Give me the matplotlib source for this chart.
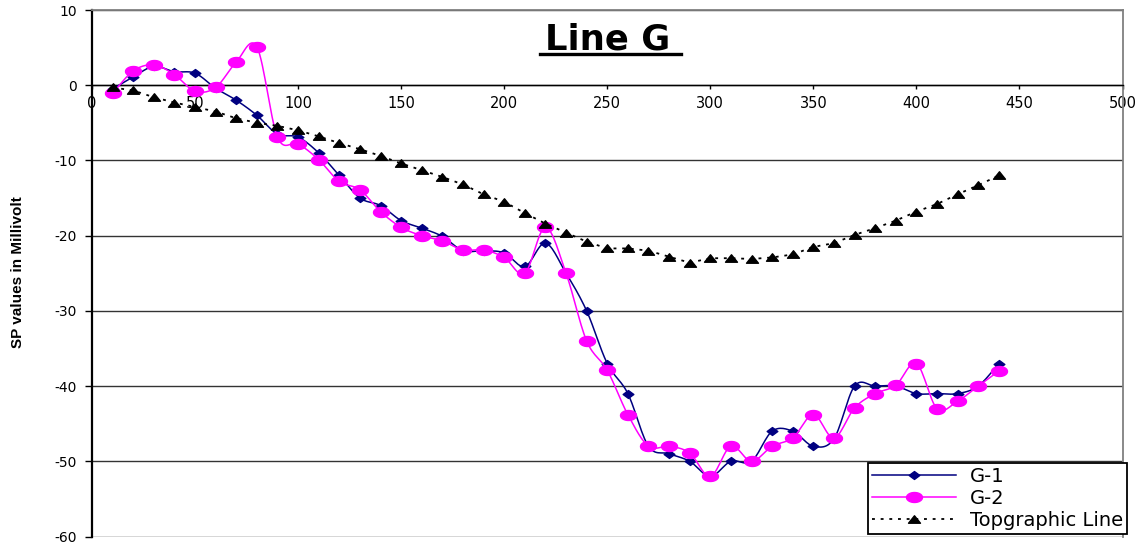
import numpy as np
import matplotlib
matplotlib.use("Agg")
import matplotlib.pyplot as plt
from matplotlib.path import Path
from matplotlib.lines import Line2D

# ---------------- data ----------------
distance = [10, 20, 30, 40, 50, 60, 70, 80, 90, 100, 110, 120, 130, 140, 150,
            160, 170, 180, 190, 200, 210, 220, 230, 240, 250, 260, 270, 280,
            290, 300, 310, 320, 330, 340, 350, 360, 370, 380, 390, 400, 410,
            420, 430, 440]

g1 = [-0.5, 1.1, 2.5, 1.8, 1.6, -0.4, -2.0, -4.0, -6.5, -6.9, -9.0, -12.0,
      -15.0, -16.0, -18.0, -19.0, -20.1, -22.0, -22.0, -22.3, -24.1, -21.0,
      -25.0, -30.0, -37.0, -41.0, -48.0, -49.0, -50.0, -52.0, -50.0, -50.0,
      -46.0, -46.0, -48.0, -47.0, -40.0, -40.0, -40.0, -41.0, -41.0, -41.0,
      -40.0, -37.0]

g2 = [-1.1, 1.9, 2.7, 1.4, -0.8, -0.3, 3.1, 5.1, -6.9, -7.8, -9.9, -12.8,
      -13.9, -16.8, -18.9, -20.0, -20.7, -21.9, -21.9, -22.9, -25.0, -18.9,
      -25.0, -34.0, -37.9, -43.8, -48.0, -48.0, -48.9, -52.0, -48.0, -50.0,
      -48.0, -46.9, -43.8, -46.9, -42.9, -41.0, -39.9, -37.0, -43.0, -42.0,
      -40.0, -38.0]

topo = [-0.3, -0.7, -1.6, -2.3, -2.9, -3.5, -4.4, -5.0, -5.4, -6.0, -6.8,
        -7.7, -8.5, -9.4, -10.4, -11.3, -12.2, -13.2, -14.5, -15.5, -17.0,
        -18.4, -19.6, -20.8, -21.7, -21.7, -22.0, -22.8, -23.6, -23.0, -23.0,
        -23.1, -22.9, -22.5, -21.5, -21.0, -19.9, -19.0, -18.0, -16.8, -15.8,
        -14.5, -13.3, -12.0]

labels = ["G-1", "G-2", "Topgraphic Line"]
title = "Line G"
ylabel = "SP values in Millivolt"
xticks = [0, 50, 100, 150, 200, 250, 300, 350, 400, 450, 500]
yticks = [-60, -50, -40, -30, -20, -10, 0, 10]


# ---------------- helpers ----------------
def smooth(x, y, n=16):
    """Catmull-Rom / Bezier smoothing like spreadsheet 'smoothed line'."""
    x = np.asarray(x, float)
    y = np.asarray(y, float)
    P = np.column_stack([x, y])
    Pext = np.vstack([P[0], P, P[-1]])
    t = np.linspace(0, 1, n)[:, None]
    out = []
    for i in range(len(P) - 1):
        p0, p1, p2, p3 = Pext[i], Pext[i + 1], Pext[i + 2], Pext[i + 3]
        c1 = p1 + (p2 - p0) / 6.0
        c2 = p2 - (p3 - p1) / 6.0
        seg = ((1 - t) ** 3) * p1 + 3 * ((1 - t) ** 2) * t * c1 + \
              3 * (1 - t) * t ** 2 * c2 + t ** 3 * p2
        out.append(seg if i == 0 else seg[1:])
    s = np.vstack(out)
    return s[:, 0], s[:, 1]


th = np.linspace(0, 2 * np.pi, 48)
ellipse_marker = Path(np.column_stack([1.6 * np.cos(th), np.sin(th)]), closed=True)
diamond_marker = Path([(0, 1), (1.35, 0), (0, -1), (-1.35, 0), (0, 1)], closed=True)
tri_marker = Path([(-0.8, -0.5), (0.8, -0.5), (0, 0.5), (-0.8, -0.5)], closed=True)

# ---------------- figure ----------------
W, H = 1146, 546
fig = plt.figure(figsize=(W / 100, H / 100), dpi=100)
ax = fig.add_axes([92 / W, 1 - 536.5 / H, (1122.5 - 92) / W, (536.5 - 10) / H])

navy = "#000080"
mag = "#FF00FF"

sx, sy = smooth(distance, g1)
ax.plot(sx, sy, color=navy, lw=1.1, zorder=3)
ax.plot(distance, g1, ls="none", marker=diamond_marker, ms=7.7,
        color=navy, mec=navy, zorder=3)

sx, sy = smooth(distance, g2)
ax.plot(sx, sy, color=mag, lw=1.1, zorder=4)
ax.plot(distance, g2, ls="none", marker=ellipse_marker, ms=11.5,
        color=mag, mec=mag, zorder=4)

ax.plot(distance, topo, color="black", lw=1.3, ls=(0, (1.6, 3.2)),
        marker=tri_marker, ms=8.6, mfc="black", mec="black", zorder=5)

ax.set_xlim(0, 500)
ax.set_ylim(-60, 10)
ax.set_xticks(xticks)
ax.set_yticks(yticks)
ax.set_xticklabels([str(v) for v in xticks])
ax.set_yticklabels([str(v) for v in yticks])

ax.grid(axis="y", color="#333333", lw=1.0, zorder=1)
ax.grid(axis="x", visible=False)
ax.set_axisbelow(True)

ax.spines["left"].set_color("black")
ax.spines["left"].set_linewidth(1.6)
ax.spines["bottom"].set_position(("data", 0))
ax.spines["bottom"].set_color("black")
ax.spines["bottom"].set_linewidth(1.0)
for s in ("top", "right"):
    ax.spines[s].set_color("#808080")
    ax.spines[s].set_linewidth(1.3)

ax.tick_params(axis="x", direction="out", length=3, width=1, pad=5,
               labelsize=10.5, colors="black")
ax.tick_params(axis="y", direction="out", length=5, width=1, pad=6,
               labelsize=10, colors="black")

# title with underline
t = fig.text(607.5 / W, 1 - 49 / H, title, ha="center", va="baseline",
             fontsize=25.5, fontweight="bold", family="DejaVu Sans")
fig.canvas.draw()
bb = t.get_window_extent()
fig.add_artist(Line2D([(bb.x0 - 5) / W, (bb.x1 + 11) / W],
                      [1 - 53.5 / H, 1 - 53.5 / H],
                      transform=fig.transFigure, color="black", lw=2.4))

fig.text(18.5 / W, 1 - 272 / H, ylabel, rotation=90, ha="center", va="center",
         fontsize=11, fontweight="bold",
         family=["Liberation Sans", "DejaVu Sans"])

# legend
handles = [
    Line2D([], [], color=navy, lw=1.1, marker=diamond_marker, ms=7.7, mec=navy),
    Line2D([], [], color=mag, lw=1.1, marker=ellipse_marker, ms=11.5, mec=mag),
    Line2D([], [], color="black", lw=1.3, ls=(0, (1.6, 3.2)),
           marker=tri_marker, ms=8.6, mec="black"),
]
leg = fig.legend(handles, labels, loc="upper left",
                 bbox_to_anchor=(868 / W, 1 - 463 / H),
                 bbox_transform=fig.transFigure,
                 fontsize=14, frameon=True, fancybox=False, shadow=False,
                 edgecolor="black", framealpha=1, borderpad=0.22,
                 labelspacing=0.14, handlelength=4.3, handletextpad=0.7,
                 borderaxespad=0, numpoints=1)
leg.get_frame().set_linewidth(1.3)
leg.set_zorder(10)

fig.savefig("out.png", dpi=100)
